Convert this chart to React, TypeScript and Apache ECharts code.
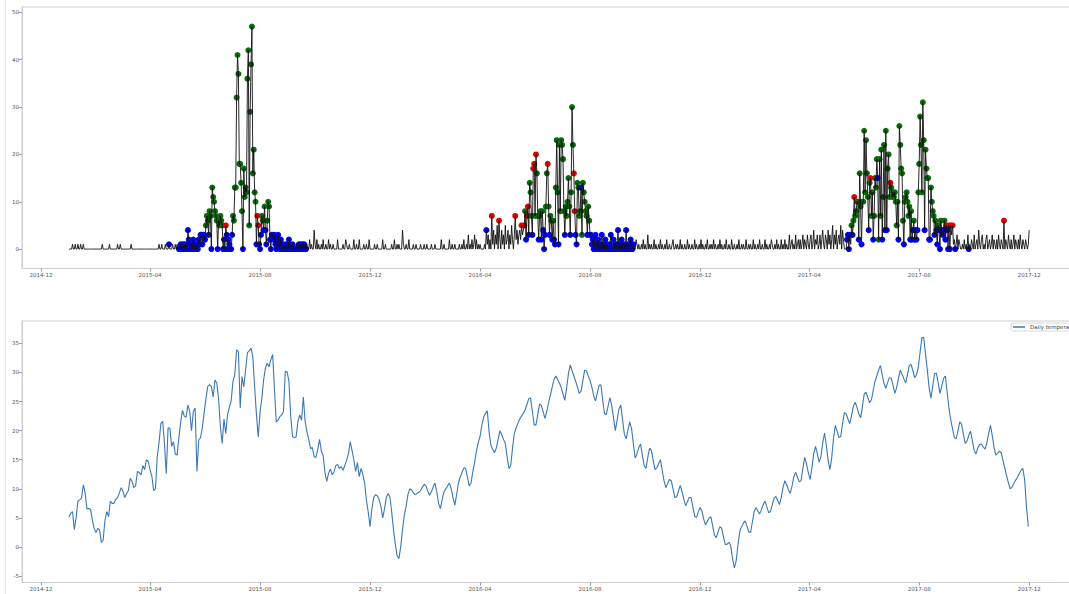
import React, { useEffect, useRef } from "react";
import * as echarts from "echarts";

const DAY = 86400000;
const START = Date.UTC(2015, 0, 1);
const X_MIN = Date.UTC(2014, 10, 10);
const X_MAX = Date.UTC(2018, 0, 23);

const xTickLabels = ["2014-12", "2015-04", "2015-08", "2015-12", "2016-04", "2016-08", "2016-12", "2017-04", "2017-08", "2017-12"];
const rainTicks = [0, 10, 20, 30, 40, 50];
const tempTicks = [-5, 0, 5, 10, 15, 20, 25, 30, 35];

// daily values, 2015-01-01 .. 2015-12-31
const rain2015 = [
  0,0,0,0,1,0,0,1,0,0, 1,0,0,1,0,0,1,0,0,0, 0,0,0,0,0,0,0,0,0,0, 0,0,0,0,0,0,0,1,0,0,
  0,0,0,0,0,1,0,0,0,0, 0,0,0,0,1,0,0,1,0,0, 0,0,0,0,0,0,0,0,0,1, 0,0,0,0,0,0,0,0,0,0,
  0,0,0,0,0,0,0,0,0,0, 0,0,0,0,0,0,0,0,0,0, 1,0,0,1,0,0,0,1,0,0, 0,1,0,0,0,1,0,0,1,0,
  1,0,0,0,1,0,1,0,1,0, 1,0,4,2,0,1,1,0,2,0, 1,1,0,0,2,1,3,3,1,3, 3,2,5,7,6,3,8,7,0,13,
  11,10,8,7,6,0,6,5,7,6, 5,0,2,0,5,3,0,2,1,0, 0,3,7,6,13,13,32,41,37,18, 18,14,8,0,17,11,13,12,36,42,
  5,29,39,47,16,21,12,10,1,7, 5,1,0,3,7,6,4,9,4,1, 6,10,9,2,0,3,3,2,3,1, 0,2,3,1,0,2,1,0,1,0,
  0,1,0,0,2,1,0,0,1,0, 0,0,1,0,0,1,0,1,0,1, 0,1,0,0,1,0,0,2,0,1, 0,0,4,1,0,2,0,1,0,0,
  1,0,2,0,0,1,0,0,2,0, 1,0,0,1,0,0,0,0,2,0, 0,0,0,0,1,0,0,2,1,0, 0,1,0,0,0,0,2,0,0,1,
  0,0,2,0,0,0,0,1,0,0, 1,0,0,2,0,0,0,0,0,1, 0,0,1,0,0,0,0,0,2,0, 0,1,0,0,0,0,0,0,1,0,
  0,2,0,0,1,
];
// daily values, 2016-01-01 .. 2016-12-31
const rain2016 = [
  0,1,0,0,0,4,1,0,0,1, 0,0,2,0,0,0,0,1,0,0, 1,0,0,0,0,1,0,0,0,1, 0,0,1,0,0,0,0,1,0,0,
  0,1,0,0,0,0,0,0,2,0, 0,1,0,0,0,0,0,2,0,0, 1,0,0,1,0,0,0,0,1,0, 0,1,0,2,0,0,1,0,3,0,
  1,0,2,0,1,3,0,2,0,1, 0,1,0,0,0,0,1,0,4,1, 3,0,2,0,7,1,4,0,3,1, 5,0,6,2,0,4,1,3,0,5,
  1,2,4,0,3,1,5,2,0,3, 7,2,4,1,3,4,2,5,3,4, 5,8,2,7,9,3,14,12,7,3, 17,18,7,20,16,7,2,7,8,2,
  8,4,0,3,9,16,18,9,3,7, 6,2,6,2,1,13,23,12,1,22, 8,23,22,19,8,3,9,7,10,15, 9,3,12,30,22,16,8,3,1,14,
  13,7,8,13,3,14,12,10,8,7, 3,9,6,3,3,1,2,0,1,3, 0,1,2,0,0,1,3,0,1,0, 2,0,1,0,0,1,3,0,0,2,
  0,1,0,1,4,0,1,0,2,0, 0,1,0,4,0,1,0,0,2,1, 0,1,0,0,2,1,0,1,0,0, 1,0,2,0,1,0,0,3,0,1,
  0,1,0,0,2,0,1,0,0,1, 0,2,0,1,0,0,1,0,2,0, 0,1,0,0,1,2,0,0,1,0, 1,0,0,2,0,1,0,0,1,0,
  0,2,0,1,0,0,1,0,0,2, 0,1,0,0,1,0,2,0,1,0, 0,1,0,2,0,0,1,0,1,0, 2,0,1,0,0,1,0,2,0,1,
  0,0,1,0,2,0,
];
// daily values, 2017-01-01 .. 2017-12-01
const rain2017 = [
  0,1,0,0,2,0,0,1,0,0, 1,0,2,0,0,1,0,1,0,0, 2,0,0,1,0,1,0,0,2,0, 1,0,0,1,0,2,0,0,1,0,
  0,2,0,1,0,0,1,0,2,1, 0,0,1,0,2,0,1,0,0,2, 0,1,0,2,0,1,0,0,3,0, 1,2,0,1,0,3,0,1,2,0,
  2,0,1,3,0,2,1,0,3,1, 0,2,3,0,1,4,0,2,1,3, 0,1,3,0,2,4,1,0,3,2, 0,4,1,3,0,2,5,0,3,1,
  4,0,2,3,1,5,0,4,2,0, 0,0,2,3,0,3,1,5,3,6, 11,7,8,10,10,2,16,9,1,10, 10,25,12,23,16,11,4,14,15,7,
  12,2,7,15,13,19,15,2,19,7, 21,2,11,22,4,25,4,17,20,11, 14,13,11,12,11,12,10,5,10,2, 26,22,17,16,6,1,10,11,12,10,
  7,9,2,8,2,4,6,2,4,2, 4,12,18,28,22,12,31,23,4,21, 17,15,15,2,2,13,10,8,7,3, 6,4,1,5,4,0,6,4,3,4,
  6,2,5,4,0,5,0,5,3,5, 1,2,0,1,3,0,2,1,0,0, 1,0,2,0,1,0,3,0,1,0, 2,1,0,3,0,1,2,0,4,1,
  0,2,3,0,1,0,2,3,0,1, 2,0,1,3,0,2,1,0,2,0, 3,1,0,2,1,0,6,0,2,1, 0,3,1,0,2,0,1,3,0,2,
  1,0,2,0,3,1,0,2,1,0, 2,1,0,1,4,
];

// marker class per day in each season: g = green, r = red, b = blue, . = none
const season2015Start = 111;
const cls2015 =
  "b......... .bbbbbbbbb bbbbbbbbbb bbbbbbbbbb bgggbggbgg ggggbggggg bbbrbbbbbb bggggggggg ggbggggggg gggggggbrr bbbggbgbbg ggbbbbbbbb bbbbbbbbbb bbbbbbbbbb b..bbbbbbb bbb";
const season2016Start = 365 + 98;
const cls2016 =
  "b.....r... ....r..... .......... ..r......r ..rgbrrbgg gbrrgrggbg gbgbbbggrg bggbgbbggg bggggggbgg gggbgggrrb bggggbgggg ggbggbbbbb bbbbbbbbbb bbbbbbbbbb bbbbbbbbbb bbbbbbbbbb bbbb";
const season2017Start = 731 + 132;
const cls2017 =
  "bbbb.gbgrg gggbggbggg ggggbgrggb ggggbggggb ggbgbgggrg gggggggbgg gggbgggggg bgbbgbbbbg ggggggbggg gbbggggbgb bgbbgbbbgb rbbrbr.r.. b......... .....b.... .......... .......... .......... ....r";

// temperature, one value every 2 days from 2015-01-01
const temp2015 = [
  5.1,5.8,6.1,3.0,5.0,7.9,8.1,8.4,10.7,9.3, 6.6,6.6,6.5,4.7,3.2,2.5,3.2,3.0,0.8,1.2,
  4.6,6.1,5.2,7.9,7.5,7.5,8.2,8.5,9.3,10.2, 9.6,8.5,9.2,9.7,11.8,11.3,10.2,10.5,13.0,12.8,
  12.4,14.0,13.3,15.0,14.7,13.3,12.2,9.7,10.0,15.5, 18.0,21.2,21.6,17.8,12.6,20.5,20.4,17.3,18.1,16.0,
  15.8,18.8,21.5,23.5,22.5,22.3,24.4,23.3,20.0,23.3, 23.9,13.0,18.4,18.8,20.5,23.1,25.5,27.6,27.9,27.6,
  25.8,28.7,28.2,25.5,20.7,17.8,22.0,19.5,22.8,24.0, 25.2,28.5,29.6,33.9,33.6,23.9,29.3,27.5,30.5,33.4,
  33.7,34.2,32.6,27.5,22.8,18.9,23.2,25.6,28.8,30.8, 31.6,31.0,32.2,33.1,27.0,21.5,21.8,22.4,22.7,23.3,
  30.2,30.1,28.5,22.5,19.0,18.8,18.9,21.6,22.7,21.8, 25.8,21.6,19.8,18.5,16.9,17.1,15.5,15.4,16.8,18.5,
  16.5,15.7,12.8,11.3,12.7,13.4,12.4,12.9,14.0,14.2, 13.5,13.8,13.2,14.0,14.9,16.0,18.1,16.6,15.0,13.0,
  14.5,12.1,13.5,12.5,11,8,6,3.5,6.5,8.5, 9,8.8,8.2,7,5,6.5,8.5,9.2,8.6,6,
  3,0.5,-1.5,
];
const temp2016 = [
  -2,0,3,5.5,7,9,10,9.8,9.3,9, 9.2,9.4,9.7,10.3,10.8,10.5,9.6,8.9,9.5,10.3,
  11,9.5,7.5,6.6,8.2,9.5,10,10.5,11,10, 8.5,7.2,9,11,12,12.8,13.6,13.5,12,10.5,
  11,13,14.6,16.5,18,19,21,22.3,23,23.4, 19.8,17.5,16.8,16.2,17,18.5,20,19.3,18.5,17.8,
  15.5,13.5,14,17,19.5,20.5,21.3,22,22.5,23, 23.6,24.5,25.5,25.6,23.3,21,21,22.8,24.6,24.3,
  23.2,22.1,23.3,24.8,26.1,27.5,28.8,29.4,28.8,28.2, 27.4,26.3,25.2,27.3,29.8,31.3,30.3,29.4,28.5,27.5,
  26.4,26.8,28.6,30.4,30.3,29.4,28.6,27.5,26,25.1, 26.5,27.8,27.9,25.3,22.9,22.8,24.2,25.7,24.3,22.2,
  20,21.8,23.7,24.4,21.9,19.4,18.6,20.1,21.5,20.3, 17.8,15.3,16,17.1,17.7,15.8,14,13.5,15.4,17,
  16.6,14.9,13.3,13.6,14.3,15,13.2,11.4,10.2,10.9, 11.6,11.4,10,8.5,8.6,9.6,10.6,9.5,8.2,7.1,
  7.8,8.5,8.5,6.9,5.3,5.1,6,6.8,6.2,4.8, 3.8,4.4,5,5.2,3.6,2,1.6,2.6,3.5,3.2,
  1.7,0.4,0.5,
];
const temp2017 = [
  0.8,0.2,-2,-3.6,-2.4,0.3,2.7,3.5,4.1,4.5, 3.6,2.6,2.5,4.3,6.1,6.8,6.2,5.7,6.4,7.3,
  7.9,6.9,5.9,6.1,7.2,8.4,8.7,8,7.3,8.5, 10.2,11.4,10.7,9.8,9.2,10.5,12.1,12.8,12,11.2,
  11.4,13.5,15.4,14.3,12.8,11.6,13.6,16,17.3,16, 14.6,15.5,17.9,19.6,17.5,14.9,13.3,15.4,18.7,20.9,
  19.9,18.8,19,21.2,23.1,22.9,22,21.2,22.6,24.2, 24.9,24,22.9,22.2,24.1,26.3,26.6,25.7,24.8,25.3,
  26.9,28.5,29.4,30.4,31.2,29.6,28.1,27.3,28.3,29.1, 29,27.8,26.4,27.4,29,30.4,29.7,28.9,28.2,29.6,
  31.2,31.4,30.3,29.1,29.6,30.9,33.5,36,36,33.2, 30.4,27.4,25.6,27.6,29.8,29.9,28.3,26.4,27.6,29,
  29.4,26.6,23.9,21.8,20.3,18.8,18.6,20,21.5,21.1, 19.4,17.8,18.2,19.2,19.9,18.2,16.6,16,17,17.6,
  17.7,17.2,16.8,17.8,19.5,20.9,19.2,17.1,15.8,16.1, 16.5,16.2,14.8,13.5,12.2,11,10,10.3,10.9,11.5,
  12,12.6,13.2,13.5,11.5,6.8,3.5,
];

const rainValues = [...rain2015, ...rain2016, ...rain2017];
const rainLine = rainValues.map((v, i) => [START + i * DAY, v]);

const dots: Record<string, number[][]> = { g: [], r: [], b: [] };
[
  [season2015Start, cls2015],
  [season2016Start, cls2016],
  [season2017Start, cls2017],
].forEach(([start, cls]) => {
  const s = (cls as string).replace(/ /g, "");
  for (let p = 0; p < s.length; p++) {
    const c = s[p];
    const idx = (start as number) + p;
    if (dots[c] && idx < rainValues.length) dots[c].push([START + idx * DAY, rainValues[idx]]);
  }
});

const tempValues = [...temp2015, ...temp2016, ...temp2017];
const tempLine = tempValues.map((v, i) => [START + i * 2 * DAY, v]);

const xTicks = xTickLabels.map((s) => {
  const [y, m] = s.split("-").map(Number);
  return Date.UTC(y, m - 1, 1);
});

const fmt = (v: number) => {
  const d = new Date(v);
  return `${d.getUTCFullYear()}-${String(d.getUTCMonth() + 1).padStart(2, "0")}`;
};

const FONT = "DejaVu Sans";
const AXIS_COLOR = "#cfcfcf";

export default function App() {
  const ref = useRef<HTMLDivElement>(null);
  useEffect(() => {
    if (!ref.current) return;
    const chart = echarts.init(ref.current, undefined, { renderer: "svg" });
    const xAxisFor = (g: number) => ({
      type: "value",
      gridIndex: g,
      min: X_MIN,
      max: X_MAX,
      axisLine: { show: true, onZero: false, lineStyle: { color: AXIS_COLOR } },
      splitLine: { show: false },
      axisTick: { show: true, customValues: xTicks, length: 3, lineStyle: { color: "#999" } },
      axisLabel: { customValues: xTicks, formatter: fmt, fontSize: 5.5, color: "#555", margin: 3, fontFamily: FONT },
    });
    const yAxisFor = (g: number, min: number, max: number, ticks: number[]) => ({
      type: "value",
      gridIndex: g,
      min,
      max,
      axisLine: { show: true, onZero: false, lineStyle: { color: AXIS_COLOR } },
      splitLine: { show: false },
      axisTick: { show: true, customValues: ticks, length: 3, lineStyle: { color: "#999" } },
      axisLabel: { customValues: ticks, fontSize: 5.5, color: "#555", margin: 3, fontFamily: FONT },
    });
    const dotSeries = (name: string, key: string, color: string) => ({
      name,
      type: "scatter",
      xAxisIndex: 0,
      yAxisIndex: 0,
      data: dots[key],
      symbolSize: 6,
      itemStyle: { color, opacity: 1 },
      z: 2,
    });
    chart.setOption({
      animation: false,
      backgroundColor: "#fff",
      grid: [
        { left: 22, top: 7, width: 1055, height: 261.5, show: true, borderColor: AXIS_COLOR, borderWidth: 1 },
        { left: 22, top: 321, width: 1055, height: 261.5, show: true, borderColor: AXIS_COLOR, borderWidth: 1 },
      ],
      xAxis: [xAxisFor(0), xAxisFor(1)],
      yAxis: [yAxisFor(0, -4.1, 51.14, rainTicks), yAxisFor(1, -6.1, 38.85, tempTicks)],
      legend: {
        data: ["Daily temperature"],
        left: 1011,
        top: 323,
        icon: "rect",
        itemWidth: 12,
        itemHeight: 1.5,
        itemGap: 4,
        padding: [1, 4, 1, 2],
        borderColor: "#d8d8d8",
        borderWidth: 1,
        borderRadius: 2,
        backgroundColor: "#fff",
        textStyle: { fontSize: 5.5, color: "#444", fontFamily: FONT },
      },
      graphic: [
        { type: "line", shape: { x1: 5.5, y1: 0, x2: 5.5, y2: 594 }, style: { stroke: "#ececec", lineWidth: 1 }, silent: true },
      ],
      series: [
        dotSeries("high", "g", "#0b6a0b"),
        dotSeries("medium", "r", "#e30000"),
        dotSeries("low", "b", "#0000f0"),
        {
          name: "Daily rainfall",
          type: "line",
          xAxisIndex: 0,
          yAxisIndex: 0,
          data: rainLine,
          showSymbol: false,
          symbol: "none",
          lineStyle: { color: "#111", width: 0.9 },
          z: 3,
        },
        {
          name: "Daily temperature",
          type: "line",
          xAxisIndex: 1,
          yAxisIndex: 1,
          data: tempLine,
          showSymbol: false,
          symbol: "none",
          lineStyle: { color: "#3b78b4", width: 1.1 },
          itemStyle: { color: "#3b78b4" },
        },
      ],
    });
    return () => chart.dispose();
  }, []);
  return (
    <div style={{ position: "absolute", left: 0, top: 0, width: 1069, height: 594, overflow: "hidden", background: "#fff" }}>
      <div ref={ref} style={{ width: 1100, height: 594 }} />
    </div>
  );
}
